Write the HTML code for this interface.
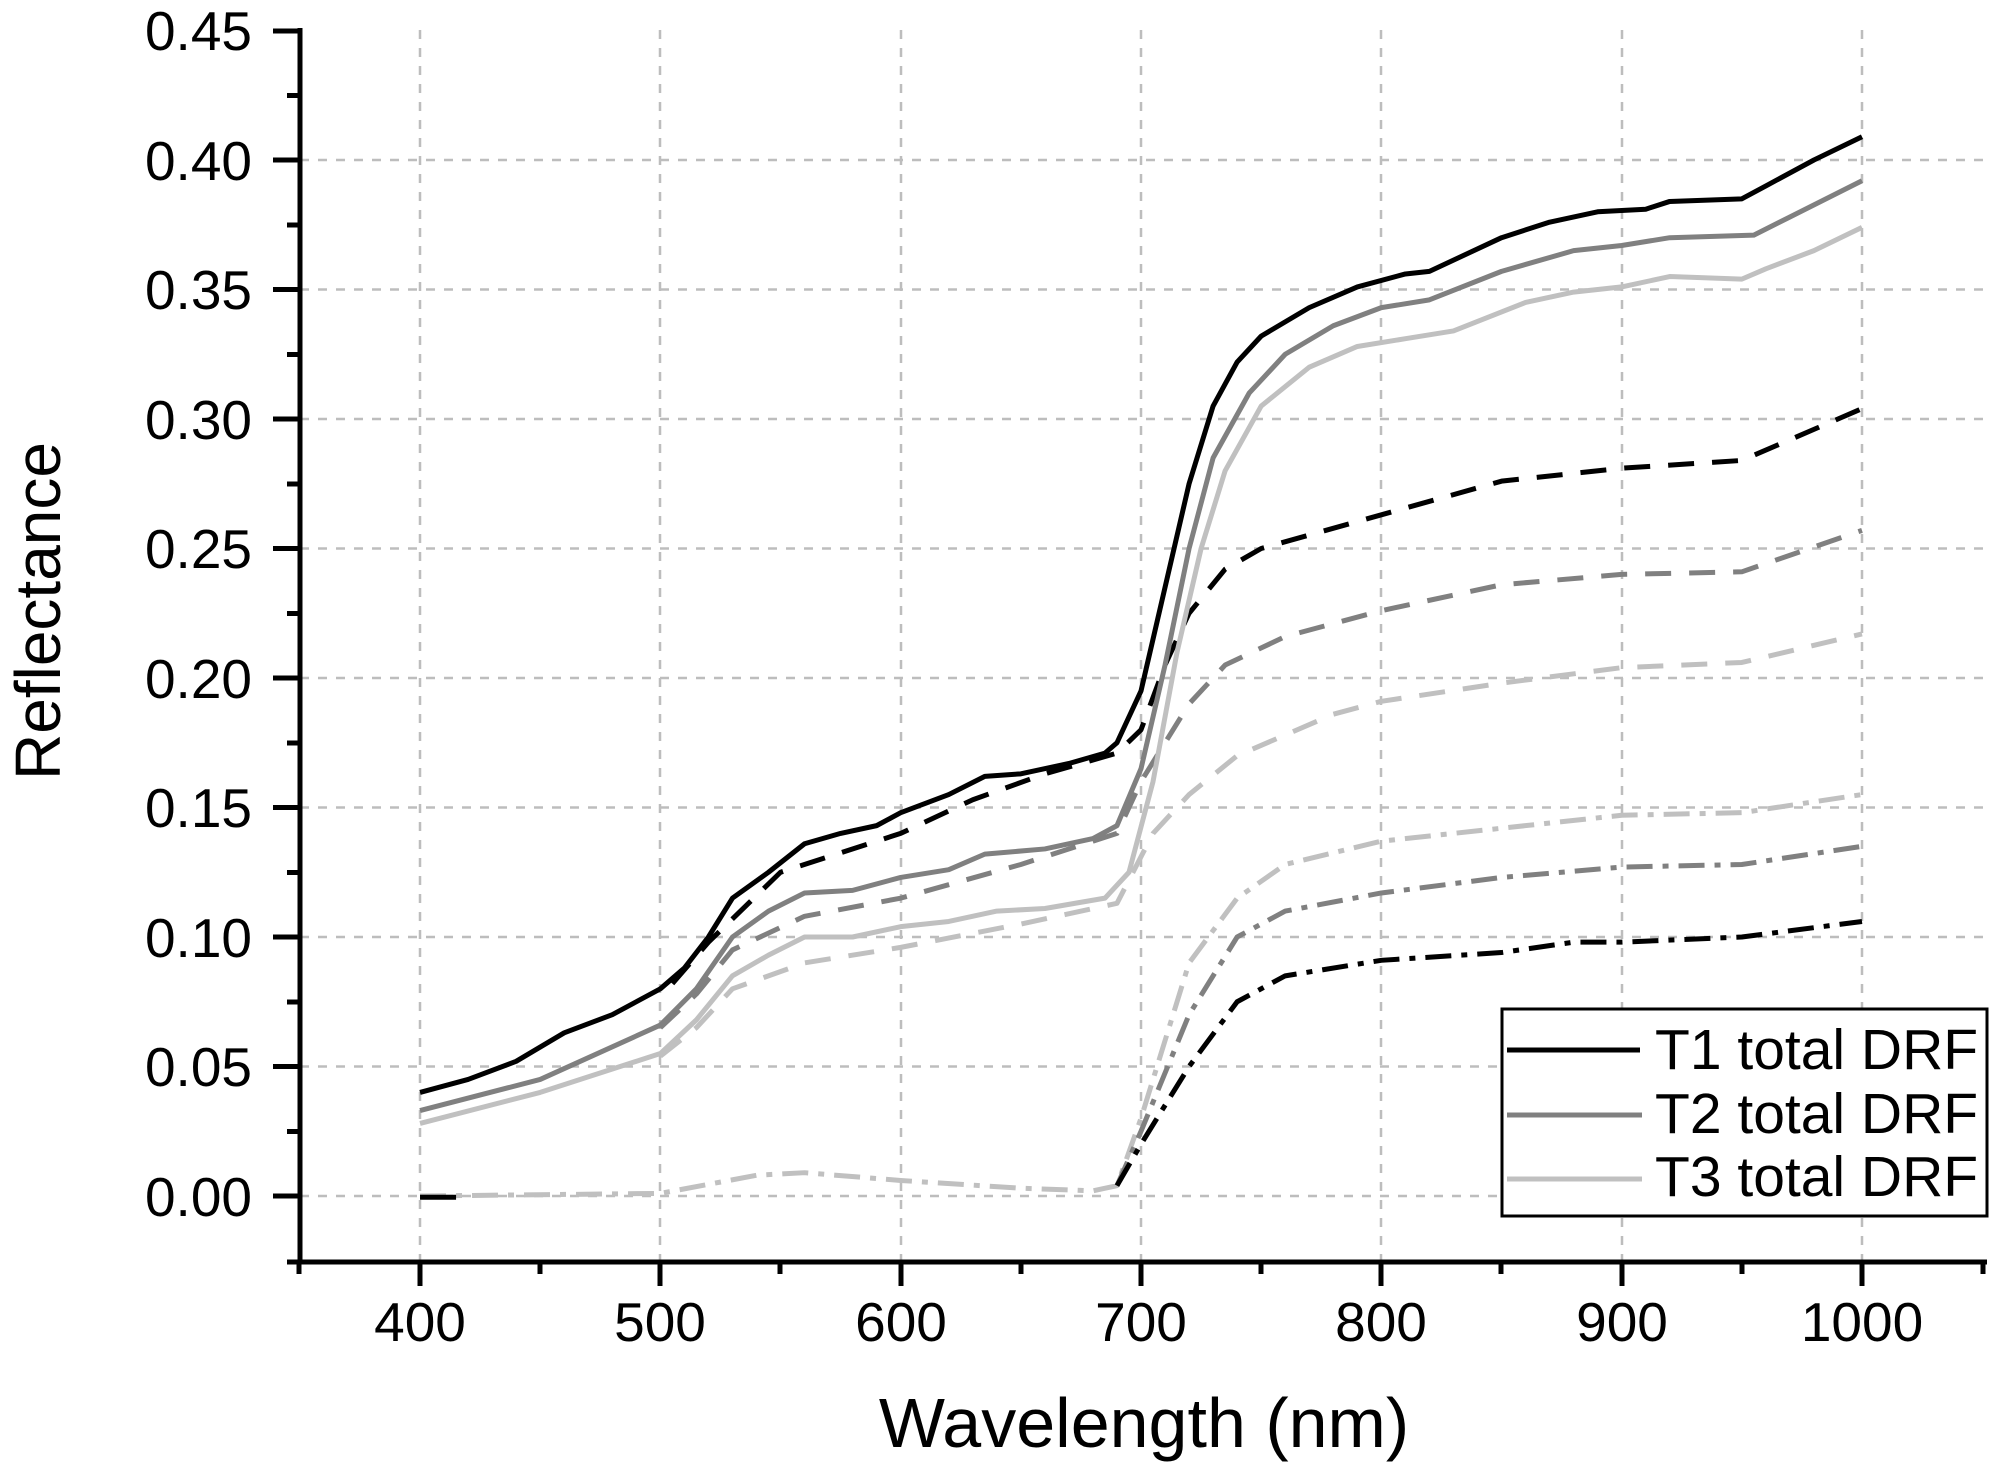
<!DOCTYPE html>
<html><head><meta charset="utf-8"><style>
html,body{margin:0;padding:0;background:#fff}
svg{display:block}
text{font-family:"Liberation Sans",Arial,sans-serif;fill:#000}
</style></head><body>
<svg width="2002" height="1462" viewBox="0 0 2002 1462" xmlns="http://www.w3.org/2000/svg">
<g stroke="#bdbdbd" stroke-width="2.5" stroke-dasharray="9,9">
<line x1="420" y1="30" x2="420" y2="1262"/><line x1="660" y1="30" x2="660" y2="1262"/>
<line x1="901" y1="30" x2="901" y2="1262"/><line x1="1141" y1="30" x2="1141" y2="1262"/>
<line x1="1381" y1="30" x2="1381" y2="1262"/><line x1="1622" y1="30" x2="1622" y2="1262"/>
<line x1="1862" y1="30" x2="1862" y2="1262"/>
<line x1="300" y1="1196" x2="1985" y2="1196"/><line x1="300" y1="1066.5" x2="1985" y2="1066.5"/>
<line x1="300" y1="937" x2="1985" y2="937"/><line x1="300" y1="807.5" x2="1985" y2="807.5"/>
<line x1="300" y1="678" x2="1985" y2="678"/><line x1="300" y1="548.5" x2="1985" y2="548.5"/>
<line x1="300" y1="419" x2="1985" y2="419"/><line x1="300" y1="289.5" x2="1985" y2="289.5"/>
<line x1="300" y1="160" x2="1985" y2="160"/>
</g>
<g transform="matrix(2.4033 0 0 -2590 -541.3 1196)" fill="none" stroke-width="5" stroke-linejoin="round">
<polyline vector-effect="non-scaling-stroke" stroke="#c0c0c0" stroke-dasharray="26,10,6,10" points="400,0 500,0.001 540,0.008 560,0.009 600,0.006 650,0.003 680,0.002 690,0.004 700,0.030 720,0.090 740,0.115 760,0.128 800,0.137 850,0.142 900,0.147 950,0.148 1000,0.155"/>
<polyline vector-effect="non-scaling-stroke" stroke="#808080" stroke-dasharray="26,10,6,10" points="690,0.004 700,0.025 720,0.070 740,0.100 760,0.110 800,0.117 850,0.123 900,0.127 950,0.128 1000,0.135"/>
<polyline vector-effect="non-scaling-stroke" stroke="#000" stroke-dasharray="26,10,6,10" points="690,0.004 700,0.020 720,0.050 740,0.075 760,0.085 800,0.091 850,0.094 880,0.098 900,0.098 950,0.100 1000,0.106"/>
<line vector-effect="non-scaling-stroke" stroke="#000" x1="400" y1="-0.0005" x2="415" y2="-0.0005"/>
<polyline vector-effect="non-scaling-stroke" stroke="#c0c0c0" stroke-dasharray="26,18" points="500,0.054 515,0.065 530,0.080 560,0.090 600,0.096 650,0.105 690,0.113 705,0.140 720,0.155 740,0.170 780,0.186 800,0.191 850,0.198 900,0.204 950,0.206 1000,0.217"/>
<polyline vector-effect="non-scaling-stroke" stroke="#808080" stroke-dasharray="26,18" points="500,0.065 515,0.078 530,0.095 560,0.108 600,0.115 650,0.128 690,0.140 700,0.160 720,0.190 735,0.205 760,0.216 800,0.226 850,0.236 900,0.240 950,0.241 1000,0.257"/>
<polyline vector-effect="non-scaling-stroke" stroke="#000" stroke-dasharray="26,18" points="505,0.082 520,0.098 550,0.125 570,0.131 600,0.140 630,0.153 660,0.163 690,0.171 700,0.180 710,0.205 720,0.225 735,0.242 750,0.250 800,0.263 850,0.276 900,0.281 950,0.284 1000,0.304"/>
<polyline vector-effect="non-scaling-stroke" stroke="#c0c0c0" points="400,0.028 450,0.040 500,0.055 515,0.068 530,0.085 545,0.093 560,0.100 580,0.100 600,0.104 620,0.106 640,0.110 660,0.111 685,0.115 695,0.125 705,0.160 715,0.210 725,0.250 735,0.280 750,0.305 770,0.320 790,0.328 810,0.331 830,0.334 860,0.345 880,0.349 900,0.351 920,0.355 950,0.354 960,0.358 980,0.365 1000,0.374"/>
<polyline vector-effect="non-scaling-stroke" stroke="#808080" points="400,0.033 450,0.045 500,0.066 515,0.080 530,0.100 545,0.110 560,0.117 580,0.118 600,0.123 620,0.126 635,0.132 660,0.134 680,0.138 690,0.143 700,0.165 710,0.205 720,0.250 730,0.285 745,0.310 760,0.325 780,0.336 800,0.343 820,0.346 850,0.357 880,0.365 900,0.367 920,0.370 955,0.371 970,0.378 1000,0.392"/>
<polyline vector-effect="non-scaling-stroke" stroke="#000" points="400,0.040 420,0.045 440,0.052 460,0.063 480,0.070 500,0.080 510,0.088 520,0.100 530,0.115 545,0.125 560,0.136 575,0.140 590,0.143 600,0.148 620,0.155 635,0.162 650,0.163 670,0.167 685,0.171 690,0.175 700,0.195 710,0.235 720,0.275 730,0.305 740,0.322 750,0.332 770,0.343 790,0.351 810,0.356 820,0.357 850,0.370 870,0.376 890,0.380 910,0.381 920,0.384 950,0.385 960,0.390 980,0.400 1000,0.409"/>
</g>
<g stroke="#000" stroke-width="5">
<line x1="300" y1="28" x2="300" y2="1264"/>
<line x1="287" y1="1262" x2="1987" y2="1262"/>
<line x1="273" y1="31" x2="300" y2="31"/><line x1="273" y1="160" x2="300" y2="160"/>
<line x1="273" y1="289.5" x2="300" y2="289.5"/><line x1="273" y1="419" x2="300" y2="419"/>
<line x1="273" y1="548.5" x2="300" y2="548.5"/><line x1="273" y1="678" x2="300" y2="678"/>
<line x1="273" y1="807.5" x2="300" y2="807.5"/><line x1="273" y1="937" x2="300" y2="937"/>
<line x1="273" y1="1066.5" x2="300" y2="1066.5"/><line x1="273" y1="1196" x2="300" y2="1196"/>
<line x1="287" y1="95.5" x2="300" y2="95.5"/><line x1="287" y1="225" x2="300" y2="225"/>
<line x1="287" y1="354.5" x2="300" y2="354.5"/><line x1="287" y1="484" x2="300" y2="484"/>
<line x1="287" y1="613.5" x2="300" y2="613.5"/><line x1="287" y1="743" x2="300" y2="743"/>
<line x1="287" y1="872.5" x2="300" y2="872.5"/><line x1="287" y1="1002" x2="300" y2="1002"/>
<line x1="287" y1="1131.5" x2="300" y2="1131.5"/>
<line x1="420" y1="1262" x2="420" y2="1286"/><line x1="660" y1="1262" x2="660" y2="1286"/>
<line x1="901" y1="1262" x2="901" y2="1286"/><line x1="1141" y1="1262" x2="1141" y2="1286"/>
<line x1="1381" y1="1262" x2="1381" y2="1286"/><line x1="1622" y1="1262" x2="1622" y2="1286"/>
<line x1="1862" y1="1262" x2="1862" y2="1286"/>
<line x1="299" y1="1262" x2="299" y2="1274"/><line x1="540" y1="1262" x2="540" y2="1274"/>
<line x1="780" y1="1262" x2="780" y2="1274"/><line x1="1021" y1="1262" x2="1021" y2="1274"/>
<line x1="1261" y1="1262" x2="1261" y2="1274"/><line x1="1501" y1="1262" x2="1501" y2="1274"/>
<line x1="1742" y1="1262" x2="1742" y2="1274"/><line x1="1983" y1="1262" x2="1983" y2="1274"/>
</g>
<g font-size="55" text-anchor="end">
<text x="252" y="50">0.45</text><text x="252" y="180">0.40</text><text x="252" y="309">0.35</text>
<text x="252" y="439">0.30</text><text x="252" y="568">0.25</text><text x="252" y="698">0.20</text>
<text x="252" y="827">0.15</text><text x="252" y="957">0.10</text><text x="252" y="1086">0.05</text>
<text x="252" y="1216">0.00</text>
</g>
<g font-size="55" text-anchor="middle">
<text x="420" y="1341">400</text><text x="660" y="1341">500</text><text x="901" y="1341">600</text>
<text x="1141" y="1341">700</text><text x="1381" y="1341">800</text><text x="1622" y="1341">900</text>
<text x="1862" y="1341">1000</text>
</g>
<text x="1144" y="1447" font-size="70" text-anchor="middle">Wavelength (nm)</text>
<text transform="translate(60,611) rotate(-90)" font-size="64" text-anchor="middle">Reflectance</text>
<rect x="1502" y="1009" width="485" height="207" fill="#fff" stroke="#000" stroke-width="3"/>
<line x1="1507" y1="1050" x2="1640" y2="1050" stroke="#000" stroke-width="5"/>
<line x1="1507" y1="1115" x2="1642" y2="1115" stroke="#808080" stroke-width="5"/>
<line x1="1507" y1="1179" x2="1642" y2="1179" stroke="#c0c0c0" stroke-width="5"/>
<g font-size="57">
<text x="1655" y="1069">T1 total DRF</text>
<text x="1655" y="1133">T2 total DRF</text>
<text x="1655" y="1196">T3 total DRF</text>
</g>
</svg>
</body></html>
